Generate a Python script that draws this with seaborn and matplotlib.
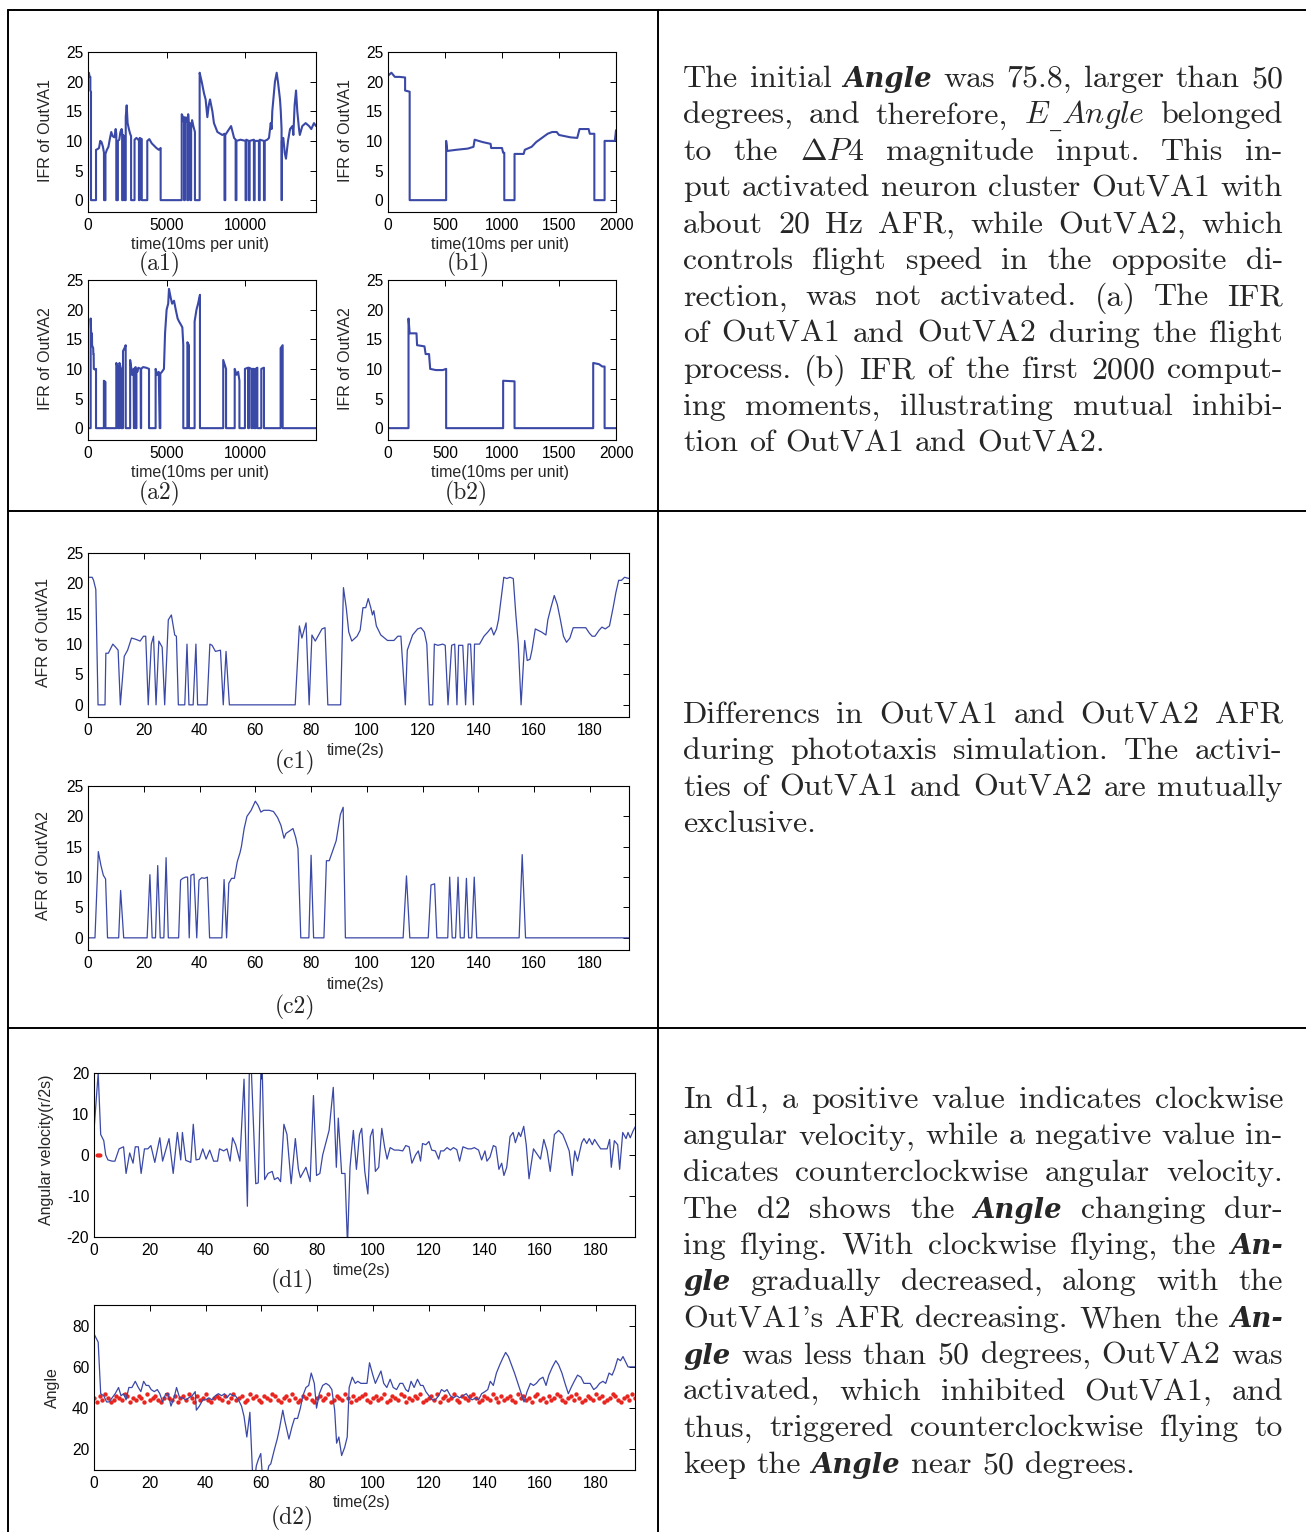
import re
import numpy as np
import matplotlib
matplotlib.use("Agg")
import matplotlib.pyplot as plt
from matplotlib.lines import Line2D
import seaborn as sns

# ------------------------------------------------------------------ data
a1_pts = [(0,21),(60,21.5),(100,20.8),(150,20.8),(150,18.5),(190,18.3),(190,0),(510,0),(510,8.5),(600,8.6),
          (700,8.8),(780,10),(860,9.8),(950,9),(1015,8),(1020,0),(1110,0),(1110,7.8),(1200,8.5),(1300,9),
          (1400,10.5),(1480,11.5),(1560,10.8),(1680,10.6),(1760,12),(1800,11.2),(1800,0),(1900,0),(1900,10),
          (1990,10.2),(2060,11.5),(2140,12),(2170,11.5),(2170,0),(2240,0),(2240,11),(2300,10.5),(2330,10.5),
          (2330,0),(2400,0),(2400,14),(2460,16),(2520,13),(2600,12),(2680,11.2),(2740,10.8),(2740,0),(2960,0),
          (2960,10.2),(3080,10.5),(3200,10.2),(3240,10),(3240,0),(3290,0),(3290,10.5),(3420,10.3),(3420,0),
          (3770,0),(3770,10),(3900,10.3),(4050,9.6),(4200,9.2),(4350,8.8),(4500,8.5),(4620,8.8),(4620,0),
          (5960,0),(5960,14.5),(6050,14),(6110,13),(6110,0),(6160,0),(6160,14),(6250,13.2),(6310,14),(6310,0),
          (6370,0),(6370,14.5),(6420,12),(6480,13),(6500,12.5),(6500,0),(6560,0),(6560,12),(6620,13.5),
          (6700,12.5),(6800,11.5),(6800,0),(7100,0),(7100,21.5),(7230,20),(7380,18),(7480,17),(7590,14),
          (7680,16),(7760,17),(7910,15),(8010,13),(8230,11.5),(8540,11),(8680,11.2),(8680,0),(8730,0),
          (8730,11),(9100,12.5),(9290,10.5),(9390,10.2),(9390,0),(9440,0),(9440,10),(9700,10.2),(10020,10),
          (10020,0),(10070,0),(10070,10.2),(10230,10),(10230,0),(10280,0),(10280,10),(10550,10.2),(10550,0),
          (10600,0),(10600,10),(10870,10),(10870,0),(10920,0),(10920,10.2),(11190,10),(11190,0),(11240,0),
          (11240,10),(11400,10.2),(11510,10.5),(11620,13),(11680,12),(11720,15),(11890,20),(12000,21.5),
          (12080,20),(12210,17),(12260,15),(12310,12),(12310,0),(12330,0),(12330,10),(12420,10.5),(12510,8),
          (12590,7),(12720,10),(12850,12),(13000,12.5),(13060,11),(13140,16),(13230,18.5),(13310,15),
          (13420,12),(13470,11),(13630,12.5),(13840,13),(14060,12.5),(14200,12),(14370,13),(14500,12.5)]

a2_pts = [(0,0),(170,0),(170,18.5),(200,16),(250,16),(260,14),(330,13.5),(340,12.5),(360,12.5),(370,10),
          (500,9.8),(510,10),(510,0),(1010,0),(1010,8),(1110,7.8),(1110,0),(1800,0),(1800,11),(1850,10.6),
          (1900,10.4),(1900,0),(2000,0),(2000,11),(2100,10),(2110,0),(2226,0),(2226,13),(2320,13.5),
          (2396,14),(2400,0),(2680,0),(2680,11.5),(2760,10),(2800,9),(2900,10),(2920,0),(2940,0),(2940,10),
          (3030,10.3),(3040,0),(3080,0),(3080,10),(3140,9.5),(3200,10.2),(3350,10),(3360,0),(3380,0),
          (3380,10),(3500,10.3),(3700,10.2),(3880,10),(3880,0),(4300,0),(4300,10),(4400,9),(4500,9.5),
          (4560,0),(4600,0),(4600,9.2),(4700,9.5),(4830,10),(4900,16),(5000,20),(5100,21),(5150,23.5),
          (5260,22),(5350,21),(5470,21.5),(5580,20),(5700,18.5),(5790,18),(5900,17.5),(6000,17),(6060,14),
          (6060,0),(6320,0),(6320,14.5),(6420,14),(6420,0),(6780,0),(6780,18),(6900,20),(7000,21),
          (7120,22.5),(7120,0),(8600,0),(8600,11.5),(8780,10),(8780,0),(9330,0),(9330,10),(9450,9),
          (9550,9.5),(9630,8),(9630,0),(9980,0),(9980,10),(10180,10.2),(10180,0),(10240,0),(10240,10.2),
          (10390,10),(10390,0),(10450,0),(10450,10),(10560,10),(10560,0),(10660,0),(10660,10),(10770,10.2),
          (10770,0),(11020,0),(11020,10),(11190,10.2),(11190,0),(12250,0),(12250,13.5),(12380,14),
          (12380,0),(14500,0)]

b1_pts = [(0,21),(30,21.5),(60,20.8),(100,20.8),(150,20.7),(150,18.5),(190,18.3),(190,0),(510,0),(510,10),
          (520,8.3),(600,8.5),(700,8.7),(750,9),(760,10.2),(830,9.8),(900,9.5),(905,8.8),(1000,8.8),
          (1010,8),(1020,8),(1020,0),(1110,0),(1110,7.8),(1190,7.8),(1200,8.5),(1260,9),(1300,9.8),
          (1350,10.5),(1400,11.2),(1440,11.5),(1480,11.5),(1500,11),(1550,10.8),(1600,10.6),(1660,10.5),
          (1680,12),(1760,12),(1770,11.2),(1810,11.2),(1810,0),(1900,0),(1900,10),(1990,10),(2000,11.8)]

b2_pts = [(0,0),(180,0),(180,18.5),(190,16),(250,16),(255,14),(320,13.8),(330,12.5),(360,12.5),(370,10),
          (420,9.8),(480,9.8),(510,10),(510,0),(1010,0),(1010,8),(1110,7.9),(1110,0),(1800,0),(1800,11),
          (1850,10.8),(1880,10.4),(1900,10.4),(1900,0),(2000,0)]

c1_pts = [(0,21),(1.5,21),(2,20.5),(2.8,19),(3.6,0),(6.1,0),(6.4,8.5),(7.3,8.5),(8.9,10),(9.9,9.5),(10.8,9),
          (11.6,0),(13,8),(14.2,9),(15.6,11),(17.1,10.8),(18.7,10.5),(19.9,11.3),(20.7,11.3),(21.6,0),
          (22.7,10),(23.5,11.3),(24.4,0),(25.4,10.5),(26.6,9.5),(27.5,0),(28.8,14),(29.9,14.8),(31.1,11.5),
          (31.7,11.3),(32.4,0),(34.7,0),(35.5,10),(36.2,0),(37.7,0),(38.7,10),(39.3,0),(42.7,0),(43.7,10),
          (44.5,9.8),(45.7,8.8),(47.5,9),(48.5,0),(49.5,8.8),(50.7,0),(74.3,0),(75.8,13),(76.7,11),
          (78.2,13.5),(79.3,0),(80.3,11.5),(81.5,10.5),(82.7,11.5),(83.9,12.5),(85,12.7),(86,0),(90.6,0),
          (91.6,19.3),(92.6,16),(93.5,12),(94.6,10.5),(96.5,11.3),(97.6,12.3),(98.6,16),(99.6,16),
          (100.5,17.5),(101.4,16),(102,14.8),(102.5,15.5),(103.4,13),(105,11.5),(106.3,11),(107.4,10.6),
          (109.7,10.6),(111.1,11.3),(112.2,11.3),(113.8,0),(114.5,9),(116.4,11.5),(118.2,12.5),(119.4,12.7),
          (120.6,12),(121.5,10),(122.4,0),(123.6,0),(124.2,10),(125.5,9.8),(127.2,10),(128.1,9.8),(129.1,0),
          (130.4,9.8),(131.5,10),(132.3,0),(132.9,9.8),(134.4,9.8),(135.4,0),(136.3,10),(137.2,10),
          (138.2,0),(138.6,10),(140.4,10),(142,11.3),(143.4,12),(144.6,12.7),(145.5,11.5),(146.5,12.5),
          (147.2,14),(148.3,18),(149.1,21),(150.2,20.8),(151.3,21),(152.5,20.8),(153.4,15),(154.3,10),
          (155.3,0),(156.6,10.6),(157.5,7.3),(158.5,7.5),(159.2,9),(160.4,12.5),(162.6,12),(164.2,11.5),
          (164.9,14),(166,16),(167.2,18),(168.3,16.5),(169.4,14),(170.5,11.3),(171.6,10.3),(172.8,11),
          (174,12.7),(176.6,12.7),(178.5,12.7),(179.8,11.8),(180.8,11.3),(181.8,11.3),(183.3,12.3),
          (184.3,12.8),(185.5,12.5),(187,13),(188.3,16),(189.3,18.5),(190.3,20.5),(191.3,20.5),(192.4,21),
          (194,20.8)]

c2_pts = [(0,0),(2.5,0),(3.7,14.2),(4.6,12),(5.5,10.3),(6.3,9.7),(7,0),(11,0),(11.7,7.8),(12.8,0),(21.2,0),
          (22.2,10.4),(23,0),(24.2,0),(25,11.9),(25.9,0),(27.2,0),(28,13.2),(28.8,0),(32.5,0),(33.2,9.5),
          (34,9.8),(35,10),(35.7,10),(36.3,0),(36.9,10.3),(38,10.5),(39,0),(39.8,9.5),(40.8,9.9),(41.8,9.8),
          (42.8,10),(43.6,0),(48,0),(48.8,9.6),(49.7,0),(50.5,9),(51.5,9.8),(52.5,9.8),(53.5,12.5),(54.5,14),
          (55,15),(56,18),(57,20),(58.5,21),(60,22.5),(61,21.8),(62,20.7),(63,21),(65,21),(66.5,20.8),
          (68,19.8),(69.2,18.5),(70.3,16.4),(71,17.2),(72,17.5),(73.5,18),(74.5,16.5),(75.3,14.7),(76.3,0),
          (79.2,0),(80,13.6),(80.9,0),(84.6,0),(85.5,12.7),(86.5,12.7),(87.5,14),(89,16),(90.5,20.3),
          (91.5,21.5),(92.3,0),(113,0),(114.2,10.2),(115.4,0),(122,0),(123,8.7),(124.3,8.9),(125.1,0),
          (129,0),(129.7,10),(130.6,0),(131.8,0),(132.7,10),(133.5,0),(134.9,0),(135.7,9.8),(136.5,0),
          (137.6,0),(138.5,10),(139.4,0),(154.6,0),(155.7,13.7),(156.9,0),(194,0)]

d1_pts = [(0,6),(1.5,20),(2.4,5),(3.5,3.5),(4.2,0),(5,-1.2),(6.5,-1.5),(7.5,-1.5),(9,1.5),(10.6,2),(11.5,-4.5),
          (12.8,0.5),(14,-2),(14.8,2),(15.9,2),(16.9,-4.5),(18.1,1.5),(19.3,1.5),(20.4,2.3),(21.8,-1.8),
          (23.6,4.2),(24.6,-1.5),(26.9,4),(28.4,-4.5),(29.9,5.5),(31.1,-1.2),(31.7,5.5),(32.9,-1.3),
          (34.7,-1.8),(35.6,7.5),(36.6,-1.2),(37.8,-1),(39,1.5),(40.2,-1),(41.5,1.2),(42.9,-1.5),(44.3,-1.5),
          (45,1.5),(46.5,1),(47.7,1.5),(48.8,-1.5),(49.7,4.2),(50.8,2.5),(52.3,-1.5),(53.8,18.5),(55,-12.5),
          (55.9,30),(58,-7),(58.9,-6.8),(60.1,28),(61.2,-6),(62.4,-4.5),(63.9,-4),(64.7,-6),(65.9,-5.5),
          (66.9,-6.5),(68.1,7.5),(69.2,5),(70.7,-7),(72.2,4),(73.3,-3.5),(74,-5.5),(76,-3),(77.5,-6.5),
          (78.7,14.5),(79.8,-5),(81,-4.5),(82,0),(84.3,6),(85.8,16.5),(86.9,-3),(87.6,9),(88.8,-4.5),
          (90,-4.5),(90.9,-22),(91.8,-3),(93,6),(94.1,-3.5),(95.2,5),(96,6.5),(97.1,-4),(98.2,-9.5),
          (99.1,4.5),(100,6.3),(100.9,-4),(102.1,-3),(103.2,6.5),(104.2,2),(105.1,-1),(106.2,1.8),
          (107.7,1.2),(109.2,1.2),(110.7,1),(111.8,2.3),(113,2),(114,-2),(115.3,0),(116.3,1),(117.1,-1.5),
          (117.8,2.8),(119,2.5),(120.1,3.3),(121.1,1.2),(122.4,1),(123.6,-1),(124.3,1),(125.4,1),(126.6,1.8),
          (127.8,1.2),(128.9,1.8),(130.1,1.3),(131.1,-1.5),(132.3,2),(134.1,1.5),(135.3,1.5),(136.4,1.8),
          (137.9,1.2),(139,-1.2),(140.2,1),(140.9,-1.5),(142,-0.5),(143.2,2.3),(144.1,2),(145.2,-3.5),
          (146.2,-2),(147,-5),(148,-3),(149.2,4.5),(150.3,5.5),(151.1,3),(152.3,5.5),(153,4.5),(154.1,7),
          (155,2.5),(156,-5.8),(157.6,1.5),(159.1,0),(160.1,-1),(161.3,3.8),(162.5,1),(163.6,-4),(165.1,5),
          (166.6,6),(168.1,5),(169.3,3),(170.4,1),(171.5,-5),(172.4,1),(173.4,-1.5),(174.9,3),(175.7,4),
          (176.7,2.8),(177.6,4),(178.7,2.5),(179.5,3.8),(180.7,2.5),(181.7,1.5),(182.8,1.5),(184,1.5),
          (184.9,3.8),(185.5,-3),(186.6,3.5),(187.8,2.5),(188.5,-3.5),(189.6,5.5),(190.8,4),(191.5,5.5),
          (192.3,4.2),(193.4,6),(194.2,7)]

d1_red_t = [0.9, 1.3, 1.7, 2.1]
d1_red_v = [0, 0, 0, 0]

d2_pts = [(0,76),(1.5,72),(2.4,47),(3.5,46),(4.5,43),(5.4,43),(6.5,45),(7.6,47),(8.8,50),(9.7,46),(10.6,47),
          (11.5,44),(12.5,50),(13.6,50),(14.8,53),(15.9,50),(16.8,48),(17.8,53),(18.7,51),(19.6,51),
          (20.5,49),(21.6,48),(22.7,49),(23.6,47),(24.6,43),(25.7,47),(26.6,47),(27.6,41),(28.7,45),
          (29.6,50),(30.7,45),(31.7,45),(32.9,44),(34,45),(35.2,46),(36.3,48),(36.7,39),(37.8,41),(39,44),
          (40,44),(41.2,45),(42.3,44),(43.5,46),(44.6,47),(45.8,46),(46.8,47),(47.7,45),(48.8,47),(49.8,46),
          (50.7,46),(51.8,44),(52.9,41),(53.8,36),(54.8,26),(55.9,38),(56.8,10),(57.6,5),(58.2,12),
          (58.9,15),(59.8,18),(60.4,7),(61.6,5),(62.7,12),(63.4,13),(64.7,20),(65.7,25),(66.5,30),
          (67.7,39),(68.4,34),(69.9,25),(71,31),(71.9,35),(73,35),(74,40),(74.9,46),(76,50),(77,51),
          (77.9,57),(79,52),(79.8,40),(80.8,47),(82,51),(83.2,52),(84.3,51),(85.3,49),(86.3,39),(87,23),
          (87.8,26),(88.8,17),(89.9,21),(90.8,26),(91.5,50),(92.6,55),(93.7,52),(94.6,53),(95.7,52),
          (96.7,52),(97.9,52),(98.8,62),(100,56),(100.9,52),(101.9,55),(102.9,58),(103.9,52),(105,50),
          (106.2,54),(107.3,50),(108.5,49),(109.7,52),(110.7,52),(111.8,49),(112.7,48),(113.7,53),
          (114.8,50),(116,54),(117.1,51),(118,51),(119,48),(120.1,46),(121.3,44),(122.4,44),(123.6,46),
          (124.6,49),(125.7,48),(126.6,49),(127.8,46),(128.9,45),(130.1,46),(131.1,45),(132.3,46),
          (133.5,47),(134.5,45),(135.6,44),(136.9,45),(137.9,44),(139,47),(140.2,48),(141.2,49),(142.1,53),
          (143.2,51),(144.3,57),(145.5,61),(146.5,64),(147.6,67),(148.6,65),(149.7,61),(150.8,57),(152,52),
          (153,48),(154.2,43),(155.3,48),(156.5,52),(157.6,51),(158.6,52),(159.8,54),(161,55),(162.1,51),
          (163.1,56),(164.4,60),(165.6,63),(166.6,61),(167.8,57),(168.9,52),(170.1,47),(171.1,50),
          (172.2,53),(173.4,56),(174.6,55),(175.7,52),(176.7,52),(177.9,52),(179.2,49),(180.2,50),
          (181.3,52),(182.5,53),(183.5,52),(184.7,57),(185.8,56),(186.7,59),(187.8,64),(188.8,63),
          (189.7,65),(190.8,62),(191.5,60),(194,60)]

d2_red_v = [45,43,46,44,47,45,43,44,46,45,44,47,46,43,45,
            44,46,45,43,47,44,45,46,44,43,45,47,45,44,46,
            43,45,46,44,47,45,43,46,44,45,47,44,43,45,46,
            45,44,46,43,45,47,44,45,46,43,44,47,45,46,44,
            43,46,45,44,47,46,44,43,45,46,44,47,45,43,44,
            46,45,47,44,43,45,46,44,45,47,43,44,46,45,44,
            47,45,43,46,44,45,46,47,44,43,45,46,44,45,47,
            43,44,46,45,44,47,46,43,45,44,46,45,47,43,44,
            45,46,44,47,43,45,46,44,45,47,44,43,46,45,44,
            46,47,45,43,44,46,45,44,47,45,43,46,44,45,46,
            44,43,47,45,46,44,45,43,46,47,44,45,43,46,44,
            45,47,46,44,43,45,46,44,47,45,43,44,46,45,44,
            47,45,46,43,44,45,47,46,44,43,45,46,44,47,45]
d2_red_t = list(range(len(d2_red_v)))

ifr_yticks = [0, 5, 10, 15, 20, 25]
a_xticks = [0, 5000, 10000]
b_xticks = [0, 500, 1000, 1500, 2000]
c_xticks = [0, 20, 40, 60, 80, 100, 120, 140, 160, 180]
d1_yticks = [-20, -10, 0, 10, 20]
d2_yticks = [20, 40, 60, 80]

para1 = ["The initial **Angle** was 75.8, larger than 50",
         "degrees, and therefore, $E$~$Angle$ belonged",
         "to the ${\\Delta}P4$ magnitude input. This in-",
         "put activated neuron cluster OutVA1 with",
         "about 20 Hz AFR, while OutVA2, which",
         "controls flight speed in the opposite di-",
         "rection, was not activated. (a) The IFR",
         "of OutVA1 and OutVA2 during the flight",
         "process. (b) IFR of the first 2000 comput-",
         "ing moments, illustrating mutual inhibi-",
         "tion of OutVA1 and OutVA2."]
para2 = ["Differencs in OutVA1 and OutVA2 AFR",
         "during phototaxis simulation. The activi-",
         "ties of OutVA1 and OutVA2 are mutually",
         "exclusive."]
para3 = ["In d1, a positive value indicates clockwise",
         "angular velocity, while a negative value in-",
         "dicates counterclockwise angular velocity.",
         "The d2 shows the **Angle** changing dur-",
         "ing flying. With clockwise flying, the **An-**",
         "**gle** gradually decreased, along with the",
         "OutVA1's AFR decreasing. When the **An-**",
         "**gle** was less than 50 degrees, OutVA2 was",
         "activated, which inhibited OutVA1, and",
         "thus, triggered counterclockwise flying to",
         "keep the **Angle** near 50 degrees."]

# ------------------------------------------------------------------ style
sns.set_style("white")
plt.rcParams["font.family"] = ["Liberation Sans", "DejaVu Sans"]
plt.rcParams["mathtext.fontset"] = "cm"
plt.rcParams["axes.unicode_minus"] = False

W, H = 1306, 1532
fig = plt.figure(figsize=(W / 100, H / 100), dpi=100)
BLUE = "#3a48a6"
RED = "#e8251e"
TICK_FS = 11.2
LABEL_FS = 11.5


def add_ax(l, t, r, b):
    ax = fig.add_axes([l / W, 1 - b / H, (r - l) / W, (b - t) / H])
    ax.set_facecolor("white")
    return ax


def finish(ax, box, xlim, ylim, xticks, yticks, xlabel, ylabel, xl_pos, yl_pos):
    l, t, r, b = box
    ax.set_xlim(xlim)
    ax.set_ylim(ylim)
    ax.set_xticks(xticks)
    ax.set_yticks(yticks)
    ax.tick_params(direction="in", length=4, width=0.7, top=True, right=True,
                   labelsize=TICK_FS, colors="black")
    ax.tick_params(axis="x", pad=4.5)
    ax.tick_params(axis="y", pad=3.5)
    for s in ax.spines.values():
        s.set_linewidth(0.8)
        s.set_color("black")
        s.set_visible(True)
    ax.set_xlabel(xlabel, fontsize=LABEL_FS)
    ax.set_ylabel(ylabel, fontsize=LABEL_FS)
    ax.xaxis.label.set_va("center")
    ax.yaxis.label.set_va("center")
    xx, xy = xl_pos
    ax.xaxis.set_label_coords((xx - l) / (r - l), (b - xy) / (b - t))
    yx, yy = yl_pos
    ax.yaxis.set_label_coords((yx - l) / (r - l), (b - yy) / (b - t))


def line(ax, pts, lw):
    t, v = zip(*pts)
    sns.lineplot(x=list(t), y=list(v), ax=ax, color=BLUE, linewidth=lw,
                 estimator=None, sort=False, errorbar=None)


# panel a1
box = (88, 52, 316, 212)
ax = add_ax(*box)
line(ax, a1_pts, 1.5)
finish(ax, box, (0, 14500), (-2, 25), a_xticks, ifr_yticks, "time(10ms per unit)",
       "IFR of OutVA1", (200, 245), (46, 131))
# panel b1
box = (388, 52, 616, 212)
ax = add_ax(*box)
line(ax, b1_pts, 1.5)
finish(ax, box, (0, 2000), (-2, 25), b_xticks, ifr_yticks, "time(10ms per unit)",
       "IFR of OutVA1", (500, 245), (346, 131))
# panel a2
box = (88, 280, 316, 440)
ax = add_ax(*box)
line(ax, a2_pts, 1.5)
finish(ax, box, (0, 14500), (-2, 25), a_xticks, ifr_yticks, "time(10ms per unit)",
       "IFR of OutVA2", (200, 473), (46, 359))
# panel b2
box = (388, 280, 616, 440)
ax = add_ax(*box)
line(ax, b2_pts, 1.5)
finish(ax, box, (0, 2000), (-2, 25), b_xticks, ifr_yticks, "time(10ms per unit)",
       "IFR of OutVA2", (500, 473), (346, 359))
# panel c1
box = (88, 553, 629, 717)
ax = add_ax(*box)
line(ax, c1_pts, 0.9)
finish(ax, box, (0, 194), (-2, 25), c_xticks, ifr_yticks, "time(2s)",
       "AFR of OutVA1", (356, 751), (44, 633))
# panel c2
box = (88, 786, 629, 950)
ax = add_ax(*box)
line(ax, c2_pts, 0.9)
finish(ax, box, (0, 194), (-2, 25), c_xticks, ifr_yticks, "time(2s)",
       "AFR of OutVA2", (356, 984), (44, 866))
# panel d1
box = (94, 1073, 635, 1237)
ax = add_ax(*box)
line(ax, d1_pts, 0.9)
sns.scatterplot(x=d1_red_t, y=d1_red_v, ax=ax, color=RED, s=8, linewidth=0, marker="o")
finish(ax, box, (0, 194), (-20, 20), c_xticks, d1_yticks, "time(2s)",
       "Angular velocity(r/2s)", (362, 1271), (47, 1150))
# panel d2
box = (94, 1305, 635, 1470)
ax = add_ax(*box)
line(ax, d2_pts, 0.9)
sns.scatterplot(x=d2_red_t, y=d2_red_v, ax=ax, color=RED, s=10, linewidth=0, marker="o")
finish(ax, box, (0, 194), (10, 90), c_xticks, d2_yticks, "time(2s)",
       "Angle", (362, 1503), (52, 1388))

# ------------------------------------------------------------------ table lines
def fline(x0, y0, x1, y1):
    fig.add_artist(Line2D([x0 / W, x1 / W], [1 - y0 / H, 1 - y1 / H],
                          transform=fig.transFigure, color="black", lw=1.4))

fline(8, 10, 1306, 10)
fline(8, 511, 1306, 511)
fline(8, 1028, 1306, 1028)
fline(8, 10, 8, 1532)
fline(658, 10, 658, 1532)

# ------------------------------------------------------------------ panel tags
for s, x, y in [("(a1)", 160, 264), ("(b1)", 468, 264), ("(a2)", 160, 493), ("(b2)", 466, 493),
                ("(c1)", 295, 762), ("(c2)", 295, 1007), ("(d1)", 292, 1281), ("(d2)", 292, 1518)]:
    fig.text(x / W, 1 - y / H, s, family="cmr10", fontsize=17, ha="center", va="center")

# ------------------------------------------------------------------ paragraphs
renderer = fig.canvas.get_renderer()


def kw(style, fs):
    if style == "bi":
        return dict(family="DejaVu Serif", weight="bold", style="italic", fontsize=fs * 0.86)
    if style == "u":
        return dict(family="DejaVu Serif", fontsize=fs * 0.7)
    return dict(family="cmr10", fontsize=fs)


def width(s, style, fs):
    t = fig.text(0, 0, s, **kw(style, fs))
    w = t.get_window_extent(renderer).width
    t.remove()
    return w


def parse_word(w):
    out = []
    for p in re.split(r"(\*\*[^*]+\*\*|\$[^$]+\$|~)", w):
        if not p:
            continue
        if p.startswith("**"):
            out.append((p[2:-2], "bi"))
        elif p.startswith("$"):
            out.append((p, "m"))
        elif p == "~":
            out.append(("_", "u"))
        else:
            out.append((p, "r"))
    return out


# calibrate size so the last line of the first paragraph spans ~421 px
fs = 20 * 421.0 / width("tion of OutVA1 and OutVA2.", "r", 20)
space = width("a a", "r", fs) - 2 * width("a", "r", fs)


def draw_para(lines, x0, x1, y0, lh):
    for i, ln in enumerate(lines):
        words = [parse_word(w) for w in ln.split(" ")]
        widths = [[width(p, s, fs) for p, s in wd] for wd in words]
        total = sum(sum(ws) for ws in widths)
        if i == len(lines) - 1 or len(words) < 2:
            gap = space
        else:
            gap = (x1 - x0 - total) / (len(words) - 1)
        x = x0
        y = y0 + i * lh
        for wd, ws in zip(words, widths):
            for (p, s), w in zip(wd, ws):
                yy = y + (3 if s == "u" else 0)
                fig.text(x / W, 1 - yy / H, p, ha="left", va="baseline", **kw(s, fs))
                x += w
            x += gap


draw_para(para1, 683, 1283, 87, 36.4)
draw_para(para2, 683, 1283, 723, 36.4)
draw_para(para3, 683, 1283, 1108, 36.5)

fig.savefig("out.png", dpi=100, facecolor="white")
